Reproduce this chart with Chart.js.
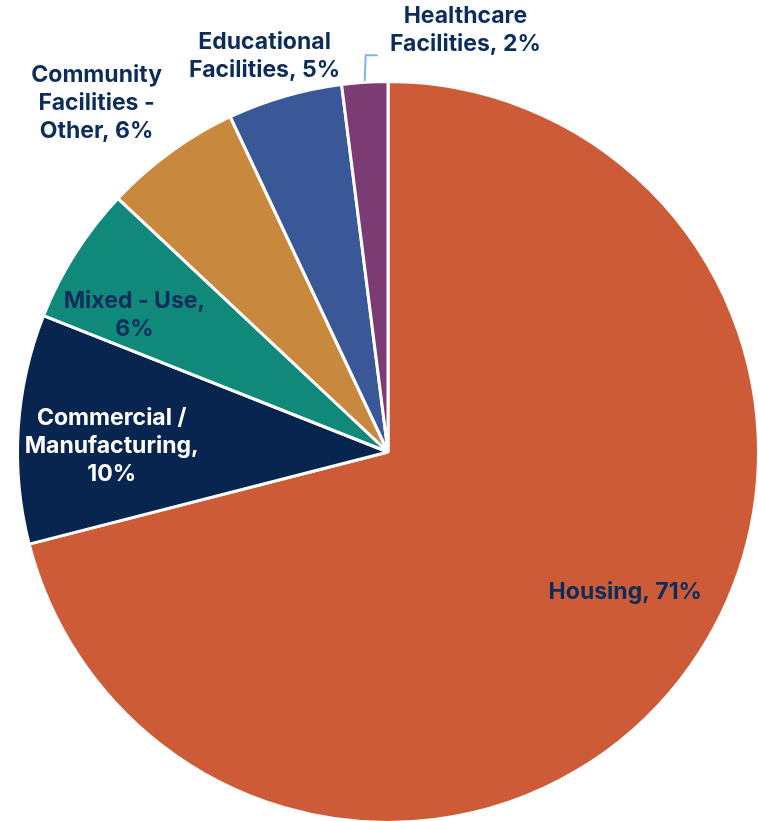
<!DOCTYPE html>
<html>
<head>
<meta charset="utf-8">
<script src="https://cdn.jsdelivr.net/npm/chart.js@4.4.0/dist/chart.umd.min.js"></script>
<style>
  html, body { margin: 0; padding: 0; background: #ffffff; overflow: hidden; }
  #c { position: absolute; left: 0; top: 0; }
</style>
</head>
<body>
<canvas id="c" width="774" height="824"></canvas>
<script>
// Data
const categories = ["Housing", "Commercial / Manufacturing", "Mixed - Use", "Community Facilities - Other", "Educational Facilities", "Healthcare Facilities"];
const shares = [71, 10, 6, 6, 5, 2];
const labelLines = [
  ["Housing, 71%"],
  ["Commercial /", "Manufacturing,", "10%"],
  ["Mixed - Use,", "6%"],
  ["Community", "Facilities -", "Other, 6%"],
  ["Educational", "Facilities, 5%"],
  ["Healthcare", "Facilities, 2%"]
];

// Styles
const colors = ["#CD5B37", "#08254F", "#10897A", "#C8893E", "#3A5898", "#7D3B73"];
const labelColors = ["#0C2D5C", "#FFFFFF", "#0C2D5C", "#0C2D5C", "#0C2D5C", "#0C2D5C"];
// label placement: [angle in degrees clockwise from top, radius factor]
const labelPlace = [[120.6, 0.744], [271.2, 0.746], [298.4, 0.778], [320.1, 1.226], [342.7, 1.12], [10.4, 1.157]];

const labelPlugin = {
  id: 'sliceLabels',
  afterDatasetsDraw(chart) {
    const ctx = chart.ctx;
    const meta = chart.getDatasetMeta(0);
    const arc0 = meta.data[0];
    const cx = arc0.x, cy = arc0.y, R = arc0.outerRadius;
    ctx.save();
    ctx.font = "700 23px Inter, 'Open Sans', sans-serif";
    ctx.textAlign = 'center';
    ctx.textBaseline = 'middle';
    const lh = 28;
    labelLines.forEach((lines, i) => {
      const a = labelPlace[i][0] * Math.PI / 180;
      const r = labelPlace[i][1] * R;
      const x = cx + r * Math.sin(a);
      const y = cy - r * Math.cos(a);
      ctx.fillStyle = labelColors[i];
      const y0 = y - (lines.length - 1) * lh / 2;
      lines.forEach((t, k) => ctx.fillText(t, x, y0 + k * lh));
    });
    // leader line for Healthcare
    const arc = meta.data[5];
    const mid = (arc.startAngle + arc.endAngle) / 2;
    const sx = cx + (R + 1) * Math.cos(mid);
    const sy = cy + (R + 1) * Math.sin(mid);
    ctx.strokeStyle = '#7FB2EE';
    ctx.lineWidth = 2;
    ctx.beginPath();
    ctx.moveTo(sx, sy);
    ctx.lineTo(sx + 1, sy - 26);
    ctx.lineTo(sx + 13, sy - 26);
    ctx.stroke();
    ctx.restore();
  }
};

new Chart(document.getElementById('c'), {
  type: 'pie',
  data: {
    labels: categories,
    datasets: [{
      data: shares,
      backgroundColor: colors,
      borderColor: '#ffffff',
      borderWidth: 3
    }]
  },
  options: {
    responsive: false,
    animation: false,
    layout: { padding: { left: 16, top: 80, right: 14, bottom: 0 } },
    plugins: { legend: { display: false }, tooltip: { enabled: false } }
  },
  plugins: [labelPlugin]
});
</script>
</body>
</html>
